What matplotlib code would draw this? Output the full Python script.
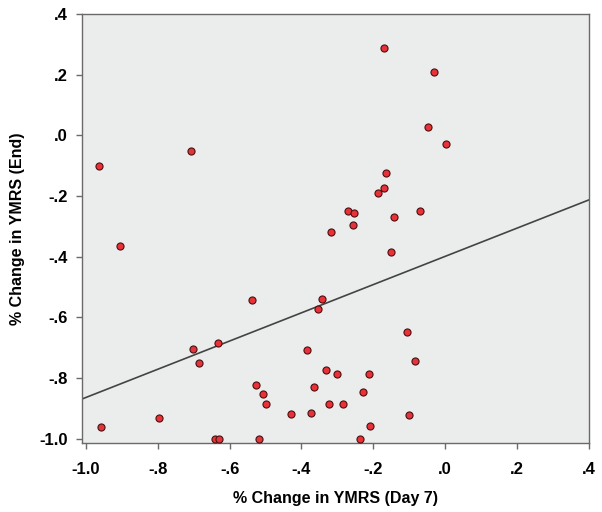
import matplotlib
matplotlib.use("Agg")
import matplotlib.pyplot as plt
from matplotlib.ticker import FuncFormatter
import numpy as np

# % change in YMRS at day 7 (x) vs at end of study (y)
day7 = [-0.964, -0.906, -0.708, -0.169, -0.032, -0.047, 0.002, -0.164, -0.171,
        -0.188, -0.270, -0.255, -0.257, -0.143, -0.069, -0.319, -0.151,
        -0.539, -0.702, -0.631, -0.685, -0.527, -0.508, -0.498, -0.429,
        -0.959, -0.797, -0.640, -0.630, -0.518,
        -0.343, -0.354, -0.106, -0.385, -0.083, -0.331, -0.300, -0.212,
        -0.364, -0.228, -0.322, -0.284, -0.372, -0.100, -0.210, -0.237]
end = [-0.102, -0.364, -0.052, 0.288, 0.209, 0.026, -0.028, -0.123, -0.173,
       -0.189, -0.249, -0.256, -0.296, -0.269, -0.249, -0.320, -0.384,
       -0.542, -0.705, -0.683, -0.750, -0.823, -0.851, -0.885, -0.919,
       -0.962, -0.933, -1.0, -1.0, -1.0,
       -0.539, -0.573, -0.648, -0.709, -0.744, -0.772, -0.788, -0.786,
       -0.829, -0.846, -0.884, -0.885, -0.916, -0.923, -0.957, -1.0]
FIT_INTERCEPT, FIT_SLOPE = -0.399, 0.465
TICKS = [-1.0, -0.8, -0.6, -0.4, -0.2, 0.0, 0.2, 0.4]

plt.rcParams.update({"font.family": ["Liberation Sans", "DejaVu Sans"],
                     "font.weight": "bold", "font.size": 11.5})


def fmt(v, _):
    s = f"{v:.1f}"
    if s == "-0.0":
        s = "0.0"
    return s.replace("0.", ".") if abs(v) < 1 else s


fig = plt.figure(figsize=(6.02, 5.12), dpi=100)
ax = fig.add_axes([0.1362, 0.1354, 0.8418, 0.8373])
ax.set_facecolor("#EBECEC")
ax.scatter(day7, end, s=26, color="#E8323A", edgecolors="#4a1010", linewidths=0.8, zorder=3)
xs = np.array([-1.011, 0.4])
ax.plot(xs, FIT_INTERCEPT + FIT_SLOPE * xs, color="#444444", lw=1.2, zorder=2)

ax.set_xlim(-1.011, 0.4); ax.set_ylim(-1.013, 0.4)
ax.set_xticks(TICKS); ax.set_yticks(TICKS)
ax.xaxis.set_major_formatter(FuncFormatter(fmt))
ax.yaxis.set_major_formatter(FuncFormatter(fmt))
for sp in ax.spines.values():
    sp.set_color("#6a6a6a"); sp.set_linewidth(1.0)
ax.tick_params(direction="out", length=4.5, width=1.0, color="#6a6a6a", labelsize=12)
ax.tick_params(axis="x", pad=9.5)
ax.tick_params(axis="y", pad=5.5)
ax.set_xlabel("% Change in YMRS (Day 7)", fontweight="bold", labelpad=10)
ax.set_ylabel("% Change in YMRS (End)", fontweight="bold", labelpad=10.5)
fig.savefig("out.png", dpi=100)
